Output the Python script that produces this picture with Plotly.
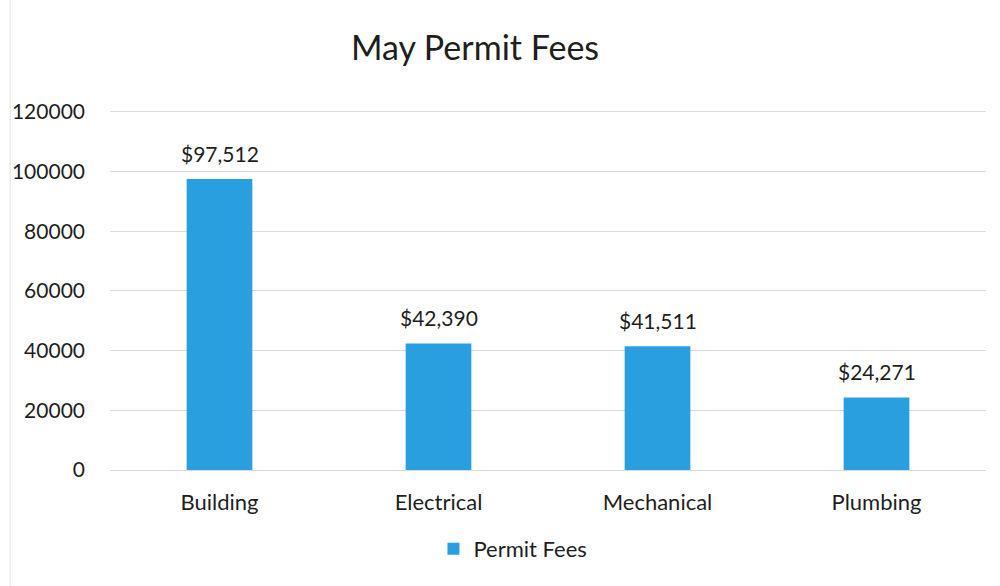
import plotly.graph_objects as go

categories = ["Building", "Electrical", "Mechanical", "Plumbing"]
fees = [97512, 42390, 41511, 24271]
labels = ["$97,512", "$42,390", "$41,511", "$24,271"]
y_ticks = [0, 20000, 40000, 60000, 80000, 100000, 120000]

FONT = "Lato, Open Sans, sans-serif"
TXT = "#1E1E1E"

fig = go.Figure()
fig.add_trace(go.Bar(
    x=categories, y=fees, name="Permit Fees",
    marker=dict(color="#2A9FE0", line=dict(width=0)),
))

for c, v, t in zip(categories, fees, labels):
    fig.add_annotation(x=c, y=v, text=t, showarrow=False, yshift=26,
                       font=dict(size=21, color=TXT, family=FONT))

fig.update_layout(
    width=1000, height=586,
    paper_bgcolor="white", plot_bgcolor="white",
    margin=dict(l=110, r=14, t=106, b=116),
    title=dict(text="May Permit Fees", x=0.475, xanchor="center", y=0.918, yanchor="middle",
               font=dict(size=34, color=TXT, family=FONT)),
    bargap=0.70,
    showlegend=True,
    legend=dict(orientation="h", x=0.46, xanchor="center", y=-0.217, yanchor="middle",
                font=dict(size=22, color=TXT, family=FONT)),
    xaxis=dict(showgrid=False, showline=True, linecolor="#D9D9D9", linewidth=1,
               ticks="", ticklabelstandoff=13,
               tickfont=dict(size=22, color=TXT, family=FONT)),
    yaxis=dict(range=[0, 122000], tickvals=y_ticks, ticktext=[str(v) for v in y_ticks],
               showgrid=True, gridcolor="#DADADA", gridwidth=1, zeroline=False,
               showline=False, ticks="", ticklabelstandoff=24,
               tickfont=dict(size=21, color=TXT, family=FONT)),
    shapes=[dict(type="line", xref="paper", yref="paper", x0=-0.114, x1=-0.114, y0=-0.4, y1=1.4,
                 line=dict(color="#E2E2E2", width=1))],
)

fig.write_html("out.html")
